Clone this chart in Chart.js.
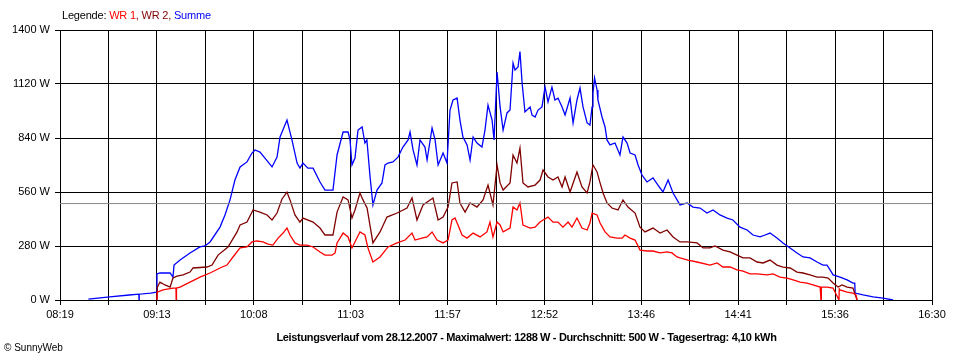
<!DOCTYPE html>
<html>
<head>
<meta charset="utf-8">
<script src="https://cdn.jsdelivr.net/npm/chart.js@4.4.1/dist/chart.umd.min.js"></script>
<style>
  body { margin: 0; background: #fff; }
  #wrap { position: relative; width: 960px; height: 360px; font-family: "Liberation Sans", Arial, sans-serif; }
  #legende { position: absolute; left: 62px; top: 9px; font-size: 11px; line-height: 13px; color: #000; letter-spacing: -0.2px; }
  #unterschrift { position: absolute; left: 0; width: 1053px; top: 330px; text-align: center; font-size: 11px; font-weight: bold; line-height: 14px; letter-spacing: -0.35px; }
  #copy { position: absolute; left: 4px; top: 342px; font-size: 10px; line-height: 12px; }
</style>
</head>
<body>
<div id="wrap">
  <canvas id="leistung" width="960" height="360"></canvas>
  <div id="legende">Legende: <span style="color:#ff0000">WR 1</span><span style="color:#800000">, WR 2, </span><span style="color:#0000ff">Summe</span></div>
  <div id="unterschrift">Leistungsverlauf vom 28.12.2007 - Maximalwert: 1288 W - Durchschnitt: 500 W - Tagesertrag: 4,10 kWh</div>
  <div id="copy">&copy; SunnyWeb</div>
</div>
<script>
// time in minutes since midnight, power in W
const zeitStart = 499;   // 08:19
const zeitEnde = 990;    // 16:30
const xLabels = ['08:19', '', '09:13', '', '10:08', '', '11:03', '', '11:57', '', '12:52', '', '13:46', '', '14:41', '', '15:36', '', '16:30'];
const yTicks = [0, 280, 560, 840, 1120, 1400];
const durchschnitt = 500;

const zeitSumme = [515.0, 527.0, 538.0, 543.4, 543.5, 543.6, 550.0, 553.5, 553.6, 555.3, 561.0, 562.6, 563.2, 566.6, 572.2, 577.8, 580.6, 583.5, 589.1, 591.9, 594.7, 597.5, 600.4, 604.3,
  607.1, 608.8, 611.6, 614.4, 618.4, 621.2, 622.9, 626.8, 629.6, 632.5, 634.1, 635.8, 638.6, 641.5, 645.4, 648.2, 652.7, 655.0, 658.4, 661.2,
  662.3, 663.4, 665.1, 666.8, 669.1, 670.7, 671.8, 673.6, 675.2, 677.5, 680.3, 682.0, 683.7, 686.5, 689.3, 692.1, 695.0, 696.1, 697.8, 700.0,
  701.7, 704.5, 705.7, 708.5, 710.2, 711.9, 714.7, 716.9, 718.6, 720.3, 722.6, 724.2, 725.9, 728.2, 729.9, 731.6, 733.8, 736.6, 738.3, 740.0,
  742.3, 743.4, 745.1, 746.8, 748.5, 750.7, 752.4, 754.1, 755.2, 756.9, 758.0, 759.2, 760.8, 763.7, 764.8, 766.5, 768.2, 770.4, 772.1, 773.8,
  776.0, 777.7, 779.4, 781.7, 783.4, 786.2, 787.9, 790.1, 791.8, 793.5, 795.8, 797.4, 798.6, 799.1, 800.0, 801.4, 801.9, 804.2, 805.9, 807.0,
  808.7, 811.5, 814.3, 816.0, 818.3, 820.0, 822.8, 824.5, 826.7, 829.5, 832.9, 835.7, 838.5, 841.4, 844.2, 848.1, 852.1, 855.4, 859.4, 863.3,
  866.7, 870.6, 874.6, 877.9, 881.9, 885.9, 889.2, 893.2, 896.0, 898.8, 902.7, 906.1, 910.1, 914.0, 917.4, 921.3, 925.3, 928.6, 930.9, 932.6,
  934.3, 938.2, 942.2, 945.5, 946.5, 946.7, 951.2, 956.8, 962.4, 968.1];
const summe = [5, 16, 26, 30, 0, 30, 36, 41, 135, 140, 140, 119, 181, 207, 244, 275, 280, 301, 378, 441, 518, 622, 690, 716,
  762, 778, 767, 736, 690, 741, 845, 933, 830, 710, 684, 710, 684, 684, 612, 570, 570, 752, 871, 871,
  830, 700, 736, 881, 897, 814, 830, 638, 493, 570, 607, 700, 710, 716, 741, 793, 830, 871, 778, 700,
  830, 793, 726, 892, 830, 700, 762, 710, 985, 1037, 1047, 933, 845, 804, 726, 845, 814, 793, 881, 1011,
  933, 830, 1182, 1001, 881, 970, 985, 1229, 1193, 1208, 1288, 1125, 975, 1001, 959, 949, 985, 1001, 1104, 1027,
  1104, 1037, 1047, 1001, 959, 1047, 918, 1037, 1099, 1001, 918, 907, 1001, 1073, 1151, 1089, 1037, 949, 897, 830,
  804, 814, 752, 845, 814, 762, 752, 700, 648, 612, 633, 596, 560, 622, 555, 493, 503, 482, 477, 451,
  467, 441, 425, 415, 378, 363, 337, 327, 337, 347, 321, 296, 270, 244, 223, 218, 197, 181, 181, 156,
  130, 119, 104, 88, 88, 36, 26, 16, 10, 0];

const zeitWR2 = [553.6, 553.8, 555.3, 558.1, 561.0, 562.6, 564.9, 568.3, 572.2, 573.9, 581.8, 584.6, 588.0, 593.6, 598.7, 600.4, 604.3, 607.7, 611.6, 615.6,
  618.4, 621.2, 624.0, 626.8, 628.5, 631.3, 634.1, 635.8, 641.5, 645.4, 648.2, 652.7, 655.0, 658.4, 661.2, 663.4, 665.1, 667.9, 669.6, 671.9,
  675.2, 679.2, 683.1, 688.8, 694.4, 697.2, 700.0, 703.4, 709.0, 711.9, 714.7, 717.5, 719.7, 722.6, 724.2, 727.1, 729.9, 733.8, 737.2, 740.0,
  742.8, 745.1, 746.8, 748.5, 752.4, 754.1, 756.3, 758.0, 759.7, 762.5, 766.5, 769.3, 771.0, 773.8, 776.6, 779.4, 781.7, 783.4, 786.2, 790.1,
  792.9, 795.8, 797.4, 799.1, 801.4, 803.1, 804.8, 807.0, 809.8, 813.2, 816.0, 818.8, 822.8, 825.6, 828.4, 832.9, 836.9, 840.8, 844.2, 848.1,
  852.1, 857.7, 861.1, 865.0, 867.8, 872.3, 876.3, 880.2, 883.6, 887.5, 891.5, 894.9, 898.8, 902.7, 906.1, 910.1, 914.0, 917.4, 921.3, 925.3,
  928.6, 931.5, 934.3, 937.1, 939.3, 942.2, 945.5, 947.2, 947.8];
const wr2 = [0, 67, 93, 78, 67, 114, 124, 130, 145, 166, 171, 181, 233, 275, 353, 389, 404, 467, 456, 441,
  415, 451, 524, 560, 519, 441, 404, 425, 404, 373, 337, 337, 456, 534, 519, 425, 467, 555, 519, 477,
  296, 353, 430, 451, 477, 529, 415, 493, 529, 415, 430, 482, 607, 612, 503, 456, 503, 482, 519, 596,
  493, 700, 607, 570, 607, 752, 710, 788, 607, 586, 596, 622, 674, 638, 622, 638, 586, 638, 560, 664,
  586, 555, 612, 700, 664, 607, 555, 503, 477, 467, 519, 482, 451, 378, 353, 373, 347, 363, 327, 301,
  301, 296, 270, 270, 280, 259, 249, 233, 218, 218, 197, 192, 207, 181, 171, 166, 145, 140, 130, 119,
  119, 114, 88, 67, 78, 67, 62, 16, 0];

const zeitWR1 = [553.6, 553.8, 557.0, 562.6, 564.3, 564.4, 564.6, 566.6, 572.2, 577.8, 583.5, 589.1, 593.0, 596.4, 600.4, 604.3, 607.1, 609.9, 613.3, 616.1,
  618.9, 621.8, 624.6, 626.8, 628.5, 631.3, 634.1, 638.1, 641.5, 645.4, 648.2, 652.2, 653.9, 655.0, 658.4, 661.2, 663.4, 667.9, 670.7, 672.4,
  675.2, 679.2, 683.7, 688.8, 693.3, 697.2, 698.9, 702.8, 705.7, 708.5, 711.3, 714.7, 717.5, 719.7, 721.4, 723.1, 725.4, 728.2, 731.6, 735.5,
  739.4, 741.1, 742.8, 745.1, 746.8, 748.5, 752.4, 754.1, 756.3, 758.0, 759.7, 763.7, 766.5, 769.3, 771.0, 773.8, 776.6, 779.4, 782.2, 785.1,
  787.3, 790.1, 792.9, 795.8, 797.4, 798.6, 801.4, 803.1, 805.9, 808.7, 812.6, 815.5, 817.1, 820.0, 822.8, 825.6, 829.5, 832.9, 836.9, 840.8,
  843.6, 846.4, 848.1, 852.6, 857.7, 865.0, 869.0, 872.3, 876.3, 880.2, 883.6, 887.5, 891.5, 897.1, 900.5, 904.4, 908.4, 911.8, 915.7, 919.6,
  923.0, 927.0, 927.5, 927.7, 930.9, 934.3, 937.6, 937.8, 938.2, 942.2, 945.5, 947.2, 947.8];
const wr1 = [0, 41, 52, 62, 62, 0, 62, 67, 93, 119, 140, 166, 181, 223, 270, 275, 301, 306, 301, 290,
  285, 321, 347, 373, 337, 296, 285, 285, 275, 249, 233, 233, 244, 296, 347, 327, 270, 353, 337, 270,
  197, 223, 275, 296, 311, 347, 311, 321, 327, 353, 311, 296, 311, 415, 425, 389, 337, 321, 347, 327,
  353, 404, 327, 404, 389, 353, 373, 482, 467, 503, 389, 373, 378, 404, 415, 430, 404, 404, 378, 404,
  378, 425, 373, 363, 399, 451, 441, 399, 353, 327, 321, 321, 337, 321, 311, 259, 254, 254, 244, 249,
  244, 223, 218, 207, 197, 181, 192, 171, 171, 156, 150, 135, 135, 130, 135, 119, 114, 104, 93, 88,
  78, 67, 0, 67, 67, 62, 0, 57, 52, 41, 36, 26, 0];

function zuPunkte(zeiten, werte) {
    return zeiten.map((t, i) => ({ x: t, y: werte[i] }));
}

function renderLeistung() {
    'use strict';
    const ctx = document.getElementById('leistung').getContext('2d');
    const schrift = { family: 'Liberation Sans', size: 11 };
    const xTicks = xLabels.map((l, i) => zeitStart + i * (zeitEnde - zeitStart) / (xLabels.length - 1));

    const data = {
        datasets: [
            {
                // average line
                data: [{ x: zeitStart, y: durchschnitt }, { x: zeitEnde, y: durchschnitt }],
                borderColor: '#888888',
                borderWidth: 1
            },
            {
                label: 'WR 1',
                data: zuPunkte(zeitWR1, wr1),
                borderColor: '#ff0000',
                borderWidth: 1.3
            },
            {
                label: 'WR 2',
                data: zuPunkte(zeitWR2, wr2),
                borderColor: '#800000',
                borderWidth: 1.3
            },
            {
                label: 'Summe',
                data: zuPunkte(zeitSumme, summe),
                borderColor: '#0000ff',
                borderWidth: 1.3
            }
        ]
    };

    const config = {
        type: 'line',
        data: data,
        options: {
            responsive: false,
            animation: false,
            layout: { padding: { top: 30, right: 28, left: 0, bottom: 0 } },
            elements: { point: { radius: 0 }, line: { tension: 0 } },
            scales: {
                x: {
                    type: 'linear',
                    min: zeitStart,
                    max: zeitEnde,
                    afterBuildTicks: axis => { axis.ticks = xTicks.map(v => ({ value: v })); },
                    afterFit: axis => { axis.height = 60; },
                    grid: { color: '#000', lineWidth: 1, tickLength: 5 },
                    border: { color: '#000' },
                    ticks: {
                        color: '#000',
                        font: schrift,
                        padding: 3,
                        maxRotation: 0,
                        autoSkip: false,
                        callback: (value, index) => xLabels[index]
                    }
                },
                y: {
                    min: 0,
                    max: 1400,
                    afterBuildTicks: axis => { axis.ticks = yTicks.map(v => ({ value: v })); },
                    afterFit: axis => { axis.width = 60; },
                    grid: { color: '#000', lineWidth: 1, tickLength: 5 },
                    border: { color: '#000' },
                    ticks: {
                        color: '#000',
                        font: schrift,
                        padding: 5,
                        callback: value => value + ' W'
                    }
                }
            },
            plugins: {
                legend: { display: false },
                tooltip: { enabled: false }
            }
        }
    };

    new Chart(ctx, config);
}

renderLeistung();
</script>
</body>
</html>
